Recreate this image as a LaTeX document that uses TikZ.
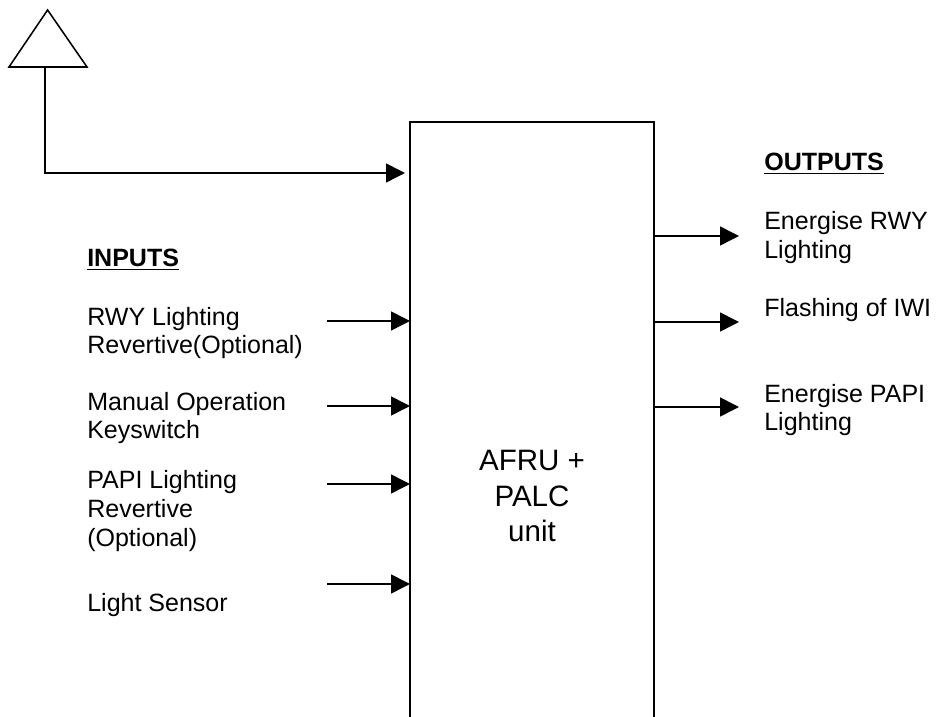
\documentclass[tikz,border=0pt]{standalone}
\usepackage{fontspec}
\setmainfont{Liberation Sans}
\usetikzlibrary{arrows.meta}

\begin{document}
\begin{tikzpicture}[>={Triangle[length=4.75mm, width=4.75mm]},
	line/.style={line width=1.1pt, black},
	lbl/.style={anchor=base west, align=left, inner sep=0pt, font=\fontsize{17.8}{20.6}\selectfont},
	heading/.style={lbl, font=\fontsize{17.8}{20.6}\selectfont\bfseries}]
		\useasboundingbox (0,0) rectangle (23.4,17.925);

		% Aerial
		\coordinate (apex) at (1.19,17.675);
		\coordinate (baseleft) at (0.225,16.25);
		\coordinate (baseright) at (2.175,16.25);
		\coordinate (foot) at (1.125,16.25);
		\coordinate (bend) at (1.125,13.6);
		\draw[line] (apex) -- (baseleft) -- (baseright) -- cycle;

		% Unit, open at the bottom
		\node[minimum width=6.1cm, minimum height=14.875cm, inner sep=0pt, outer sep=0pt] (afru) at (13.3,7.4375) {};
		\draw[line] (afru.south west) -- (afru.north west) -- (afru.north east) -- (afru.south east);
		\node[align=center, inner sep=0pt, font=\fontsize{21}{25.6}\selectfont] (afrutext) at (13.3,5.525) {AFRU +\\PALC\\unit};

		% Aerial feed
		\coordinate (feedend) at (10.125,13.6);
		\draw[line, ->] (foot) -- (bend) -- (feedend);

		% Inputs
		\node[heading] (inputs) at (2.175,11.26) {\underline{INPUTS}};
		\node[lbl] (rwyin) at (2.175,9.075) {RWY Lighting\\Revertive(Optional)};
		\node[lbl] (manual) at (2.175,6.95) {Manual Operation\\Keyswitch};
		\node[lbl] (papiin) at (2.175,4.265) {PAPI Lighting\\Revertive\\(Optional)};
		\node[lbl] (sensor) at (2.175,2.63) {Light Sensor};

		\coordinate (in1) at (8.175,9.9);
		\coordinate (in2) at (8.175,7.775);
		\coordinate (in3) at (8.175,5.825);
		\coordinate (in4) at (8.175,3.325);
		\foreach \n in {in1,in2,in3,in4}
			\draw[line, ->] (\n) -- (\n -| afru.west);

		% Outputs
		\node[heading] (outputs) at (19.1,13.65) {\underline{OUTPUTS}};
		\node[lbl] (rwyout) at (19.1,11.46) {Energise RWY\\Lighting};
		\node[lbl] (iwi) at (19.1,10) {Flashing of IWI};
		\node[lbl] (papiout) at (19.1,7.15) {Energise PAPI\\Lighting};

		\coordinate (out1) at (18.475,12.025);
		\coordinate (out2) at (18.475,9.875);
		\coordinate (out3) at (18.475,7.75);
		\foreach \n in {out1,out2,out3}
			\draw[line, ->] (\n -| afru.east) -- (\n);
	\end{tikzpicture}
\end{document}
